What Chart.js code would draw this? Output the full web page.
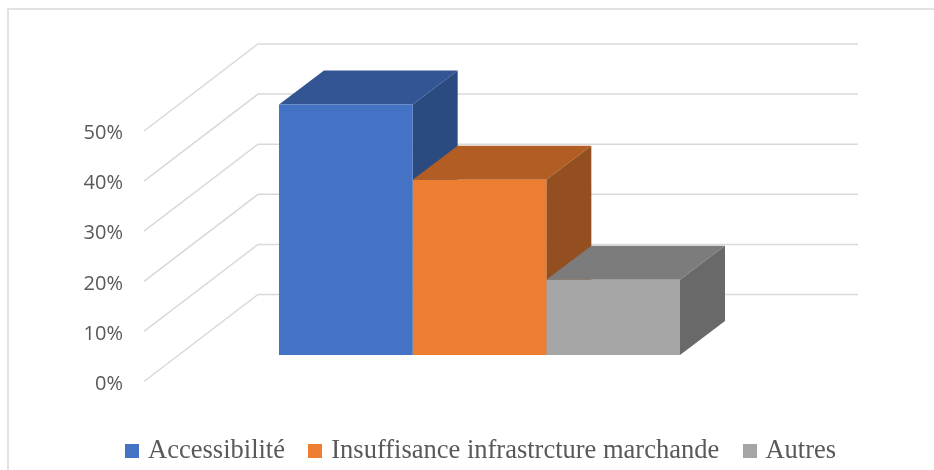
<!DOCTYPE html>
<html>
<head>
<meta charset="utf-8">
<title>Graphique</title>
<script src="https://cdn.jsdelivr.net/npm/chart.js@4"></script>
<style>
  html, body { margin: 0; background: #fff; }
  canvas { display: block; }
</style>
</head>
<body>
<canvas id="chart" width="934" height="470"></canvas>
<script>
const categories = [""];
const seriesNames = ["Accessibilité", "Insuffisance infrastrcture marchande", "Autres"];
const seriesValues = [[50], [35], [15]];
const tickValues = [0, 10, 20, 30, 40, 50];

const frontColors = ["#4472C4", "#ED7D31", "#A5A5A5"];
const topColors = ["#335593", "#B25D23", "#7C7C7C"];
const sideColors = ["#2A4A80", "#934F1F", "#696969"];
const gridColor = "#D9D9D9";
const textColor = "#595959";

// the fake 3D box: walls go back by wall*, bars sit at plane* and are bar* deep
const wallX = 114, wallY = -87;
const planeX = 35.5, planeY = -26.5;
const barX = 45, barY = -34;

function legendSwatch(color) {
    const c = document.createElement("canvas");
    c.width = 14;
    c.height = 14;
    const g = c.getContext("2d");
    g.fillStyle = color;
    g.fillRect(0, 0, 14, 14);
    return c;
}

function poly(ctx, color, pts) {
    ctx.fillStyle = color;
    ctx.beginPath();
    ctx.moveTo(pts[0][0], pts[0][1]);
    for (let i = 1; i < pts.length; i++) ctx.lineTo(pts[i][0], pts[i][1]);
    ctx.closePath();
    ctx.fill();
}

const box3d = {
    id: "box3d",
    afterLayout(chart) {
        // legend sits lower than its own padding would allow
        const lg = chart.legend;
        lg.top = 451 - lg.options.labels.padding - 13;
    },
    beforeDraw(chart) {
        const ctx = chart.ctx;
        ctx.save();
        ctx.strokeStyle = gridColor;
        ctx.lineWidth = 1.5;
        ctx.beginPath();
        ctx.moveTo(8, 470);
        ctx.lineTo(8, 9);
        ctx.lineTo(934, 9);
        ctx.stroke();
        ctx.restore();
    },
    beforeDatasetsDraw(chart) {
        const ctx = chart.ctx;
        const area = chart.chartArea;
        const y = chart.scales.y;
        ctx.save();
        ctx.strokeStyle = gridColor;
        ctx.lineWidth = 1.5;
        y.ticks.forEach(function (t) {
            const py = y.getPixelForValue(t.value);
            ctx.beginPath();
            ctx.moveTo(area.left, py);
            ctx.lineTo(area.left + wallX, py + wallY);
            ctx.lineTo(area.right + wallX, py + wallY);
            ctx.stroke();
        });
        ctx.restore();

        ctx.save();
        ctx.translate(planeX, planeY);
        seriesNames.forEach(function (name, i) {
            const b = chart.getDatasetMeta(i).data[0];
            const l = b.x - b.width / 2, r = b.x + b.width / 2;
            poly(ctx, topColors[i], [[l, b.y], [l + barX, b.y + barY], [r + barX, b.y + barY], [r, b.y]]);
            poly(ctx, sideColors[i], [[r, b.y], [r + barX, b.y + barY], [r + barX, b.base + barY], [r, b.base]]);
        });
        // bars themselves are drawn by chart.js in the shifted plane
    },
    afterDatasetsDraw(chart) {
        chart.ctx.restore();
    }
};

new Chart(document.getElementById("chart"), {
    type: "bar",
    data: {
        labels: categories,
        datasets: seriesNames.map(function (name, i) {
            return {
                label: name,
                data: seriesValues[i],
                backgroundColor: frontColors[i],
                clip: false
            };
        })
    },
    options: {
        responsive: false,
        animation: false,
        categoryPercentage: 401 / 600,
        barPercentage: 1,
        layout: { padding: { left: 32, top: 131 } },
        scales: {
            x: {
                ticks: { display: false },
                grid: { display: false },
                border: { display: false },
                afterFit(s) { s.height = 24; }
            },
            y: {
                min: 0,
                max: 50,
                afterBuildTicks(s) { s.ticks = tickValues.map(function (v) { return { value: v }; }); },
                afterFit(s) { s.width = 112; },
                grid: { display: false },
                border: { display: false },
                ticks: {
                    padding: 13,
                    labelOffset: 2.5,
                    color: textColor,
                    font: { family: "'Open Sans'", size: 20 },
                    callback: function (v) { return v + "%"; }
                }
            },
            // keeps the front of the floor at its width, legend still centres on the whole page
            rightPad: {
                type: "linear",
                position: "right",
                ticks: { display: false },
                grid: { display: false },
                border: { display: false },
                afterFit(s) { s.width = 190; }
            }
        },
        plugins: {
            tooltip: { enabled: false },
            legend: {
                position: "bottom",
                labels: {
                    usePointStyle: true,
                    boxWidth: 5,
                    boxHeight: 14,
                    padding: 28,
                    color: textColor,
                    font: { family: "'Liberation Serif'", size: 26.5 },
                    generateLabels(chart) {
                        return Chart.defaults.plugins.legend.labels.generateLabels(chart).map(function (item, i) {
                            item.pointStyle = legendSwatch(frontColors[i]);
                            return item;
                        });
                    }
                }
            }
        }
    },
    plugins: [box3d]
});
</script>
</body>
</html>
